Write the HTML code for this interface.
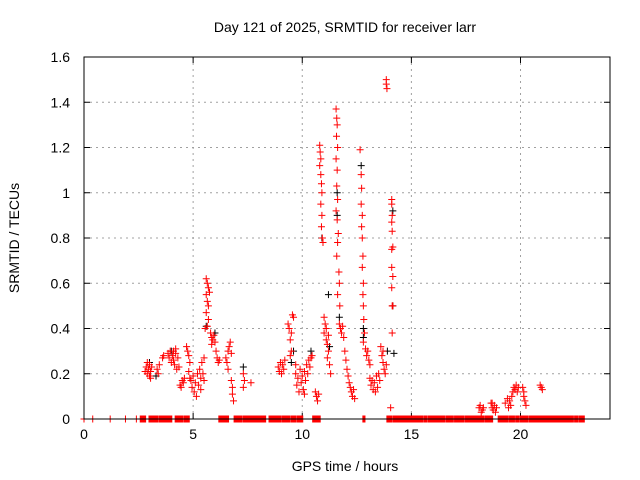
<!DOCTYPE html>
<html><head><meta charset="utf-8"><style>
html,body{margin:0;padding:0;background:#fff}
svg{display:block;font-family:"Liberation Sans",sans-serif}
</style></head><body>
<svg id="chart" width="640" height="480" viewBox="0 0 640 480" xmlns="http://www.w3.org/2000/svg">
<rect width="640" height="480" fill="#fff"/>
<text x="345" y="32" text-anchor="middle" font-size="14">Day 121 of 2025, SRMTID for receiver larr</text>
<text x="345" y="471" text-anchor="middle" font-size="14">GPS time / hours</text>
<text transform="translate(19,238) rotate(-90)" text-anchor="middle" font-size="14">SRMTID / TECUs</text>
<g id="grid"></g>
<g id="ticks"></g>
<g id="marks"></g>
<rect x="84" y="57" width="526" height="362" fill="none" stroke="#000" stroke-width="1"/>
</svg>
<script>
const xTicks=[0,5,10,15,20];
const yTicks=[0,0.2,0.4,0.6,0.8,1,1.2,1.4,1.6];
const yTickLabels=["0","0.2","0.4","0.6","0.8","1","1.2","1.4","1.6"];
const redHours=[2.8,2.85,2.9,2.95,3.0,3.0,3.05,3.1,2.9,3.05,3.4,3.45,3.35,3.6,3.65,
3.85,3.9,3.95,4.0,4.05,4.1,4.15,4.2,4.25,4.3,4.35,4.2,4.1,
4.4,4.45,4.5,4.55,4.6,4.7,4.75,4.8,4.85,4.8,4.85,
4.9,4.95,5.0,5.05,5.1,5.15,5.2,5.25,5.3,5.35,5.4,5.45,5.5,5.35,5.5,
5.6,5.65,5.7,5.6,5.65,5.7,5.75,5.6,5.7,5.65,5.55,
5.8,5.85,5.9,5.95,6.0,5.85,6.05,6.1,6.15,6.2,
6.5,6.55,6.6,6.65,6.7,6.75,6.6,6.75,6.8,6.8,6.85,7.3,7.35,7.3,7.65,
8.9,8.95,9.0,9.05,9.1,9.15,9.2,9.35,9.4,9.45,9.5,9.45,9.55,9.6,9.5,
9.7,9.75,9.8,9.85,9.9,9.95,10.0,10.05,10.1,10.15,10.2,10.25,10.3,10.35,10.4,10.45,9.7,10.1,
10.6,10.65,10.7,10.75,
10.8,10.82,10.85,10.8,10.85,10.88,10.9,10.85,10.9,10.88,10.92,10.95,
11.0,11.05,11.1,11.0,11.1,11.15,11.2,11.15,11.25,11.3,11.2,
11.55,11.58,11.6,11.57,11.62,11.55,11.6,11.58,11.62,11.55,11.6,11.65,11.62,11.58,11.68,11.7,11.62,11.72,
11.7,11.75,11.8,11.85,11.9,
11.95,12.0,12.05,12.1,12.15,12.2,12.25,12.3,12.35,12.4,
12.65,12.7,12.72,12.7,12.75,12.72,12.75,12.78,12.75,12.8,12.78,12.8,12.82,12.85,12.8,
12.9,12.95,13.0,13.05,13.1,
13.1,13.15,13.2,13.25,13.3,13.35,13.4,13.45,13.5,13.55,
13.6,13.65,13.7,13.75,13.8,13.85,13.7,13.85,13.85,13.88,
14.1,14.1,14.12,14.1,14.12,14.15,14.1,14.1,14.15,14.1,14.12,14.15,14.12,14.05,
18.1,18.15,18.2,18.25,18.3,18.65,18.7,18.75,18.8,18.85,18.9,18.7,
19.3,19.4,19.45,19.5,19.55,19.6,19.65,19.7,19.75,19.8,19.85,19.9,
20.1,20.15,20.2,20.15,20.25,20.9,20.95,21.0];
const redValues=[0.21,0.23,0.2,0.22,0.19,0.24,0.21,0.23,0.25,0.18,0.2,0.24,0.22,0.27,0.28,
0.29,0.27,0.3,0.25,0.28,0.26,0.24,0.29,0.22,0.27,0.23,0.31,0.3,
0.15,0.14,0.17,0.16,0.18,0.32,0.3,0.28,0.25,0.21,0.18,
0.17,0.14,0.19,0.12,0.16,0.1,0.2,0.15,0.22,0.18,0.25,0.2,0.27,0.13,0.17,
0.62,0.6,0.58,0.55,0.52,0.5,0.56,0.47,0.44,0.41,0.4,
0.38,0.36,0.35,0.37,0.34,0.33,0.3,0.27,0.25,0.26,
0.27,0.25,0.3,0.32,0.34,0.29,0.22,0.17,0.14,0.11,0.08,0.2,0.17,0.14,0.16,
0.23,0.21,0.25,0.2,0.24,0.22,0.26,0.42,0.4,0.35,0.3,0.28,0.46,0.45,0.38,
0.2,0.15,0.18,0.12,0.22,0.16,0.19,0.13,0.21,0.17,0.24,0.2,0.26,0.23,0.27,0.28,0.24,0.11,
0.12,0.1,0.08,0.11,
1.21,1.18,1.15,1.12,1.08,1.04,1.0,0.95,0.9,0.85,0.8,0.78,
0.45,0.42,0.4,0.38,0.35,0.33,0.3,0.27,0.24,0.2,0.37,
1.37,1.33,1.3,1.25,1.2,1.15,1.1,1.03,0.97,0.92,0.88,0.82,0.78,0.72,0.65,0.6,0.55,0.5,
0.42,0.4,0.38,0.41,0.36,
0.3,0.26,0.22,0.19,0.16,0.14,0.12,0.1,0.13,0.09,
1.19,1.08,1.02,0.95,0.9,0.85,0.8,0.72,0.67,0.6,0.55,0.5,0.44,0.38,0.34,
0.31,0.28,0.3,0.26,0.24,
0.18,0.15,0.17,0.13,0.16,0.12,0.19,0.14,0.2,0.17,
0.32,0.28,0.25,0.22,0.2,0.24,0.3,1.5,1.48,1.46,
0.97,0.95,0.9,0.87,0.83,0.76,0.75,0.67,0.63,0.58,0.5,0.5,0.38,0.05,
0.05,0.06,0.03,0.04,0.05,0.07,0.05,0.04,0.06,0.03,0.05,0.07,
0.07,0.09,0.05,0.08,0.06,0.1,0.12,0.14,0.13,0.15,0.12,0.14,
0.14,0.1,0.08,0.12,0.06,0.15,0.14,0.13];
const blackHours=[3.0,3.3,4.0,5.6,6.0,7.3,9.5,9.6,10.4,10.9,11.2,11.25,11.6,11.6,11.7,12.7,12.8,12.8,13.9,14.15,14.2,14.15];
const blackValues=[0.25,0.19,0.3,0.41,0.38,0.23,0.25,0.3,0.3,0.8,0.55,0.32,1.0,0.9,0.45,1.12,0.4,0.36,0.3,0.92,0.29,0.5];
const zeroSingles=[0,0.4,1.2,1.9,2.4];
const zeroStart=[2.6,3.0,3.45,4.2,4.6,6.2,6.9,7.3,8.5,9.1,9.5,9.8,10.5,12.8,13.9,14.2,15.6,15.8,16.15,16.6,16.75,17.0,17.5,18.4,19.0,19.5,19.8,20.0,20.4,22.5,22.7];
const zeroEnd=[2.8,3.35,4.0,4.5,4.8,6.6,7.2,8.3,9.0,9.4,9.7,10.0,10.8,12.85,14.1,15.5,15.7,16.1,16.5,16.7,16.9,17.4,18.3,18.7,19.4,19.7,19.9,20.3,22.4,22.6,22.9];

const X0=84,X1=610,Y0=419,Y1=57;
function xs(h){return X0+h*(X1-X0)/24.1;}
function ys(v){return Y0-v*(Y0-Y1)/1.6;}
const NS="http://www.w3.org/2000/svg";
function mk(tag,attrs,parent){const e=document.createElementNS(NS,tag);for(const k in attrs)e.setAttribute(k,attrs[k]);parent.appendChild(e);return e;}
const grid=document.getElementById('grid'),ticks=document.getElementById('ticks'),marks=document.getElementById('marks');
xTicks.forEach(t=>{const x=xs(t);
 if(t>0){const g=mk('line',{x1:x,x2:x,y1:Y1,y2:Y0,stroke:'#a0a0a0','stroke-dasharray':'2,4'},grid);
 
 }
 mk('line',{x1:x,x2:x,y1:Y0,y2:Y0-6,stroke:'#000'},ticks);
 mk('line',{x1:x,x2:x,y1:Y1,y2:Y1+6,stroke:'#000'},ticks);
 const l=mk('text',{x:x,y:Y0+20,'text-anchor':'middle','font-size':14},ticks);l.textContent=String(t);
 
 
});
yTicks.forEach((t,i)=>{const y=ys(t);
 if(t>0&&t<1.6){const g=mk('line',{x1:X0,x2:X1,y1:y,y2:y,stroke:'#a0a0a0','stroke-dasharray':'2,4'},grid);
 
 }
 mk('line',{x1:X0,x2:X0+6,y1:y,y2:y,stroke:'#000'},ticks);
 mk('line',{x1:X1,x2:X1-6,y1:y,y2:y,stroke:'#000'},ticks);
 const l=mk('text',{x:X0-14,y:y+5,'text-anchor':'end','font-size':14},ticks);l.textContent=yTickLabels[i];
 
 
});
function plus(h,v,c,name){const x=xs(h),y=ys(v);
 const p=mk('path',{d:`M${x-3.5},${y}h7M${x},${y-3.5}v7`,stroke:c,'stroke-width':1,fill:'none'},marks);
 
 }
blackHours.forEach((h,i)=>plus(h,blackValues[i],'#000','black-point'));
redHours.forEach((h,i)=>plus(h,redValues[i],'#f00','red-point'));
zeroSingles.forEach(h=>plus(h,0,'#f00','zero-point'));
zeroStart.forEach((s,i)=>{const x1=xs(s)-1,x2=xs(zeroEnd[i])+1;
 const r=mk('rect',{x:x1,y:Y0-3.5,width:x2-x1,height:7,fill:'#f00'},marks);
 
 
});
</script>
</body></html>
